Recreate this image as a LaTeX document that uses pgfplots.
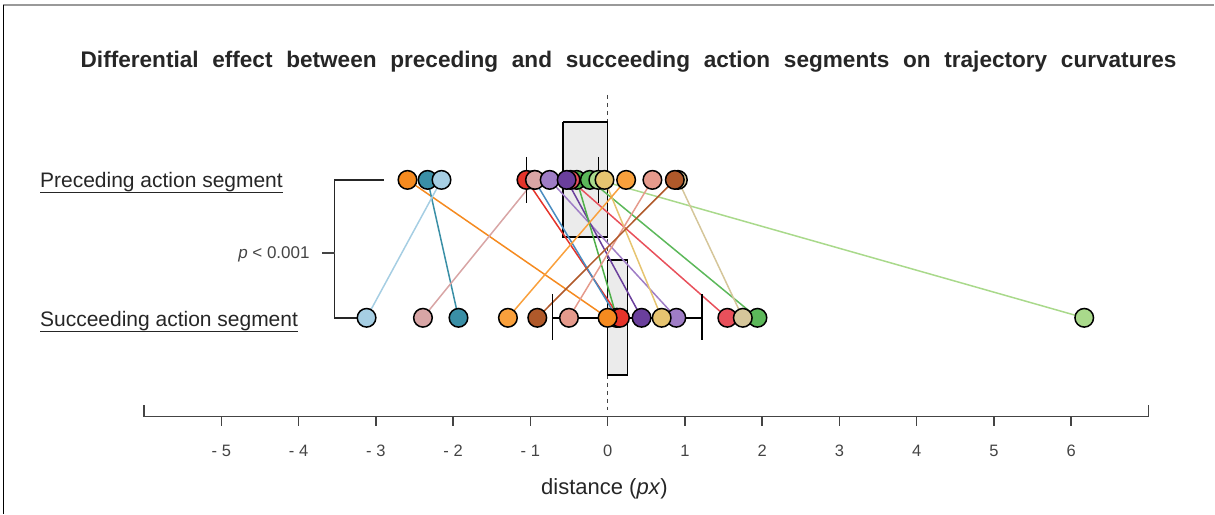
\documentclass[border=0pt]{standalone}
\usepackage{pgfplots}
\pgfplotsset{compat=1.18}
\usepackage{fontspec}
\setmainfont{Liberation Sans}

\definecolor{axisgray}{HTML}{444444}
\definecolor{boxgray}{HTML}{EBEBEB}
\definecolor{cOrA}{HTML}{F58A1F}
\definecolor{cTeal}{HTML}{3A8FA6}
\definecolor{cLBlue}{HTML}{A6CEE3}
\definecolor{cRed}{HTML}{E5332A}
\definecolor{cBlue}{HTML}{4A8CC0}
\definecolor{cPink}{HTML}{D8A5A5}
\definecolor{cLav}{HTML}{9F7DC6}
\definecolor{cLRed}{HTML}{E8505B}
\definecolor{cDPur}{HTML}{6A3F9C}
\definecolor{cGrA}{HTML}{4FAF4A}
\definecolor{cGrB}{HTML}{5CB85A}
\definecolor{cLGr}{HTML}{A9D98B}
\definecolor{cWheat}{HTML}{E6C470}
\definecolor{cOrB}{HTML}{F9A03C}
\definecolor{cSalm}{HTML}{E59A8C}
\definecolor{cTan}{HTML}{D5C69A}
\definecolor{cBrown}{HTML}{B0592A}

% rows sit at y=-180 (preceding) and y=-318 (succeeding)
\newcommand\conn[3]{\addplot[#1, line width=1.5bp, no markers] coordinates {(#2,-180) (#3,-318)};}
\newcommand\dotpair[3]{\addplot[only marks, mark=*, mark size=9.3bp,
    mark options={fill=#1, draw=black, line width=1.5bp}] coordinates {(#2,-180) (#3,-318)};}
\newcommand\uline[1]{\setbox0=\hbox{#1}\leavevmode\rlap{\copy0}\rule[-5bp]{\wd0}{1.2bp}}

\begin{document}
\begin{tikzpicture}
\begin{axis}[x=77.3bp, y=1bp, xmin=-6, xmax=7, ymin=-417, ymax=-90,
    axis x line*=bottom, axis y line=none, clip=false,
    xtick={-5,...,6}, xticklabels={- 5,- 4,- 3,- 2,- 1,0,1,2,3,4,5,6},
    tick align=outside, major tick length=9bp,
    x axis line style={line width=1.5bp, color=axisgray},
    every tick/.style={line width=1.5bp, axisgray},
    xticklabel style={font=\fontsize{16.5bp}{19bp}\selectfont, text=axisgray, anchor=base, yshift=-31bp}]

% frame bits and bounding box
\path (axis cs:-7.865,0) (axis cs:7.853,-514);
\draw[gray!80, line width=1.5bp] (axis cs:-7.827,-5) -- (axis cs:7.853,-5);
\draw[black, line width=0.8bp] (axis cs:-7.827,-5) -- (axis cs:-7.827,-514);

% zero line
\addplot[axisgray, line width=1.2bp, dash pattern=on 4bp off 4bp] coordinates {(0,-95) (0,-410)};

% mean boxes
\addplot[fill=boxgray, draw=black, line width=1.5bp] coordinates {(-0.58,-122) (0,-122) (0,-237) (-0.58,-237) (-0.58,-122)};
\addplot[fill=boxgray, draw=black, line width=1.5bp] coordinates {(0,-260) (0.26,-260) (0.26,-375) (0,-375) (0,-260)};

% pairs: color, preceding, succeeding
\conn{cOrA}{-2.59}{0.00}
\conn{cTeal}{-2.33}{-1.93}
\conn{cLBlue}{-2.15}{-3.12}
\conn{cRed}{-1.05}{0.16}
\conn{cBlue}{-0.95}{0.12}
\conn{cPink}{-0.94}{-2.39}
\conn{cLav}{-0.75}{0.89}
\conn{cLRed}{-0.48}{1.55}
\conn{cDPur}{-0.53}{0.44}
\conn{cGrA}{-0.40}{0.12}
\conn{cGrB}{-0.23}{1.94}
\conn{cLGr}{-0.12}{6.17}
\conn{cWheat}{-0.04}{0.70}
\conn{cOrB}{0.24}{-1.29}
\conn{cSalm}{0.58}{-0.50}
\conn{cTan}{0.91}{1.75}
\conn{cBrown}{0.87}{-0.91}

% error bar spans
\addplot[black, line width=1.5bp] coordinates {(-1.05,-180) (-0.12,-180)};
\addplot[black, line width=1.5bp] coordinates {(-0.71,-318) (1.22,-318)};

% bracket
\draw[black!85, line width=1.5bp] (axis cs:-2.9,-180) -- (axis cs:-3.532,-180) -- (axis cs:-3.532,-318) -- (axis cs:-3.2,-318);
\draw[axisgray, line width=2.5bp] (axis cs:-3.70,-253) -- (axis cs:-3.532,-253);

\dotpair{cBlue}{-0.95}{0.12}
\dotpair{cGrA}{-0.40}{0.12}
\dotpair{cRed}{-1.05}{0.16}
\dotpair{cOrA}{-2.59}{0.00}
\dotpair{cTeal}{-2.33}{-1.93}
\dotpair{cLBlue}{-2.15}{-3.12}
\dotpair{cPink}{-0.94}{-2.39}
\dotpair{cLav}{-0.75}{0.89}
\dotpair{cLRed}{-0.48}{1.55}
\dotpair{cDPur}{-0.53}{0.44}
\dotpair{cGrB}{-0.23}{1.94}
\dotpair{cLGr}{-0.12}{6.17}
\dotpair{cWheat}{-0.04}{0.70}
\dotpair{cOrB}{0.24}{-1.29}
\dotpair{cSalm}{0.58}{-0.50}
\dotpair{cTan}{0.91}{1.75}
\dotpair{cBrown}{0.87}{-0.91}

% error bar caps
\addplot[black, line width=1.5bp] coordinates {(-1.05,-157) (-1.05,-203)};
\addplot[black, line width=1.5bp] coordinates {(-0.12,-157) (-0.12,-203)};
\addplot[black, line width=1.5bp] coordinates {(-0.71,-294) (-0.71,-340)};
\addplot[black, line width=1.5bp] coordinates {(1.22,-294) (1.22,-340)};

% axis end ticks
\draw[axisgray, line width=1.5bp] (axis cs:-6,-417) -- (axis cs:-6,-405);
\draw[axisgray, line width=1.5bp] (axis cs:7,-417) -- (axis cs:7,-405);

% texts
\node[anchor=base, font=\fontsize{22.6bp}{26bp}\selectfont\bfseries, text=black!85] at (axis cs:0.272,-68)
  {\spaceskip=13.7bp Differential effect between preceding and succeeding action segments on trajectory curvatures};
\node[anchor=base west, font=\fontsize{21bp}{25bp}\selectfont, text=black!85, inner sep=0pt] at (axis cs:-7.348,-188)
  {\uline{Preceding action segment}};
\node[anchor=base west, font=\fontsize{21bp}{25bp}\selectfont, text=black!85, inner sep=0pt] at (axis cs:-7.348,-327)
  {\uline{Succeeding action segment}};
\node[anchor=base east, font=\fontsize{17bp}{20bp}\selectfont, text=axisgray, inner sep=0pt] at (axis cs:-3.855,-259)
  {\textit{p} < 0.001};
\node[anchor=base, font=\fontsize{22bp}{26bp}\selectfont, text=black!85, inner sep=0pt] at (axis cs:-0.04,-495)
  {distance (\textit{px})};
\end{axis}
\end{tikzpicture}
\end{document}
